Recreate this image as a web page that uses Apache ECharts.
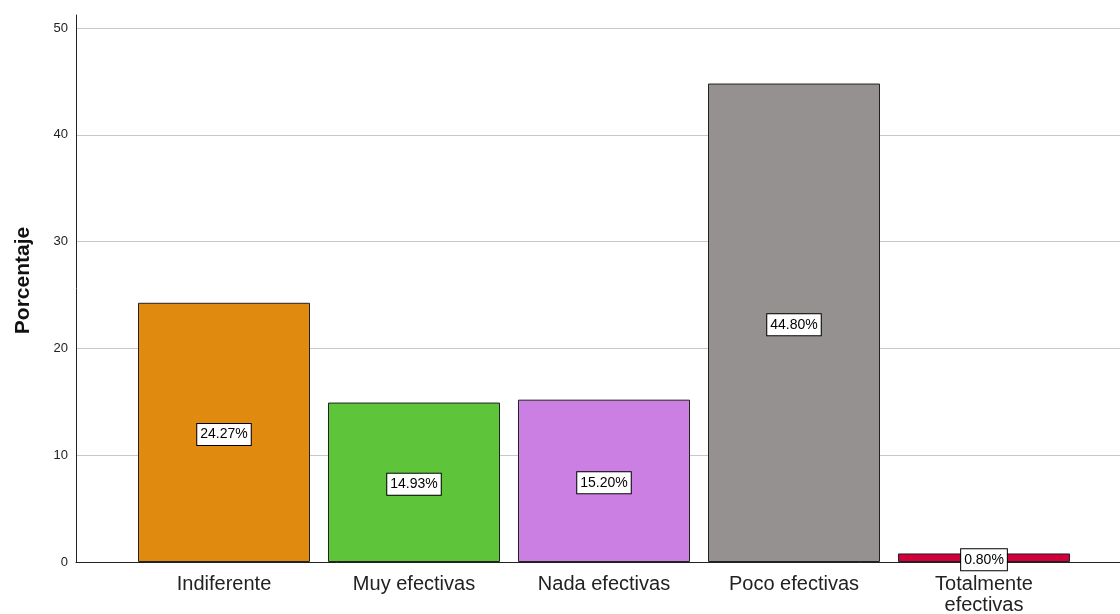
<!DOCTYPE html>
<html>
<head>
<meta charset="utf-8">
<script src="https://cdn.jsdelivr.net/npm/echarts@6/dist/echarts.min.js"></script>
<style>html,body{margin:0;padding:0;background:#fff}#c{width:1120px;height:614px}</style>
</head>
<body>
<div id="c"></div>
<script>
const categories = ['Indiferente', 'Muy efectivas', 'Nada efectivas', 'Poco efectivas', 'Totalmente\nefectivas'];
const values = [24.27, 14.93, 15.20, 44.80, 0.80];
const barColors = ['#E08A10', '#5EC43A', '#CB7FE3', '#959190', '#D1003A'];
const yTicks = [0, 10, 20, 30, 40, 50];

const FONT = '"Liberation Sans", Arial, sans-serif';
const chart = echarts.init(document.getElementById('c'), null, {renderer: 'canvas'});
chart.setOption({
  animation: false,
  backgroundColor: '#ffffff',
  grid: [
    {left: 76, right: 0, top: 15, bottom: 52, outerBoundsMode: 'none', containLabel: false},
    {left: 76, right: 0, top: 28, bottom: 52, outerBoundsMode: 'none', containLabel: false},
    {left: 129, right: 41, top: 28, bottom: 52, outerBoundsMode: 'none', containLabel: false}
  ],
  xAxis: [
    {gridIndex: 0, type: 'category', data: categories, axisLine: {lineStyle: {color: '#222', width: 1}}, axisTick: {show: false}, axisLabel: {show: false}},
    {gridIndex: 1, type: 'category', data: categories, show: false},
    {gridIndex: 2, type: 'category', data: categories, axisLine: {show: false}, axisTick: {show: false},
     axisLabel: {color: '#222', fontFamily: FONT, fontSize: 20, margin: 12, lineHeight: 21, interval: 0}}
  ],
  yAxis: [
    {gridIndex: 0, type: 'value', min: 0, max: 51.2, axisLine: {show: true, lineStyle: {color: '#222', width: 1}}, axisTick: {show: false}, axisLabel: {show: false}, splitLine: {show: false},
     name: 'Porcentaje', nameLocation: 'middle', nameGap: 42,
     nameTextStyle: {fontFamily: FONT, fontSize: 21, fontWeight: 'bold', color: '#111', padding: [0, 0, 0, 16]}},
    {gridIndex: 1, type: 'value', min: yTicks[0], max: yTicks[yTicks.length - 1], interval: 10, axisLine: {show: false}, axisTick: {show: false},
     axisLabel: {color: '#222', fontFamily: FONT, fontSize: 13, margin: 8}, splitLine: {lineStyle: {color: '#c8c8c8', width: 1}}},
    {gridIndex: 2, type: 'value', min: yTicks[0], max: yTicks[yTicks.length - 1], show: false}
  ],
  series: [{
    type: 'bar',
    xAxisIndex: 2, yAxisIndex: 2,
    barWidth: 172,
    data: values.map((v, i) => ({value: v, itemStyle: {color: barColors[i]}})),
    itemStyle: {borderColor: '#222', borderWidth: 1},
    label: {
      show: true, position: 'inside', offset: [0, 2],
      formatter: p => p.value.toFixed(2) + '%',
      fontFamily: FONT, fontSize: 14, color: '#000',
      backgroundColor: '#fff', borderColor: '#000', borderWidth: 1, padding: [4, 3, 3, 3]
    }
  }]
});
</script>
</body>
</html>
